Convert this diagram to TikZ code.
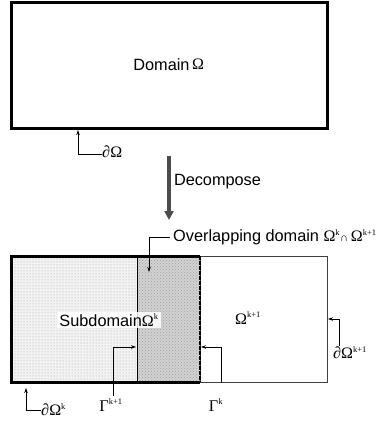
\documentclass[tikz,border=0pt]{standalone}
\usepackage{fontspec}
\setmainfont{Liberation Sans}
\newfontfamily\grkfont{Liberation Serif}
\usetikzlibrary{arrows.meta, patterns}
\newcommand{\Om}[1]{{\grkfont\fontsize{16}{18}\selectfont Ω\textsuperscript{\fontsize{8.5}{8.5}\selectfont #1}}}
\newcommand{\bdOm}[1]{{\grkfont\itshape ∂}\Om{#1}}
\newcommand{\Gam}[1]{{\grkfont Γ\textsuperscript{\fontsize{8.5}{8.5}\selectfont #1}}}

\begin{document}
\begin{tikzpicture}[x=1pt, y=-1pt,
  lbl/.style={font=\fontsize{16.3}{18}\selectfont, inner sep=0pt},
  ann/.style={line width=0.8pt, -{Stealth[length=5pt, width=3.5pt]}},
  thickb/.style={line width=3pt}]
  \useasboundingbox (0,0) rectangle (382,424);
  % whole domain
  \node[draw, thickb, lbl, minimum width=316pt, minimum height=126pt] (dom) at (169,65) {Domain\,\raisebox{1.5pt}{\Om{}}};
  \coordinate (domTip) at (78,130);
  \node[lbl, anchor=west] (dOm) at (102,152) {\bdOm{}};
  \draw[ann] ([yshift=-2pt]dOm.west) -| (domTip);
  % decompose
  \coordinate (decA) at (169,156);
  \coordinate (decB) at (169,220);
  \draw[line width=4pt, black!70, -{Triangle[length=9pt, width=9pt]}] (decA) -- (decB)
    node[pos=0.4, right=3pt, lbl, text=black] (dec) {Decompose};
  % subdomains
  \fill[gray!10] (11,256) rectangle (137,382);
  \fill[pattern=dots, pattern color=gray!70] (11,256) rectangle (137,382);
  \fill[gray!35] (137,256) rectangle (200,382);
  \fill[pattern=crosshatch dots, pattern color=gray!75] (137,256) rectangle (200,382);
  \draw[line width=1pt, black!75] (200,256) rectangle (327,382);
  \draw[line width=1pt] (137,256) -- (137,382);
  \draw[thickb] (200,256) -- (11,256) -- (11,382) -- (200,382);
  \draw[line width=2.5pt, dash pattern=on 3.5pt off 1.5pt] (200,256) -- (200,382);
  \node[lbl, fill=white, fill opacity=0.85, text opacity=1, inner sep=2pt] (sub) at (109,320) {Subdomain\Om{k}};
  \node[lbl] (omk1) at (248,318) {\Om{k+1}};
  % overlap
  \node[lbl, anchor=west] (ovl) at (173,237) {Overlapping domain \Om{k}{\grkfont\fontsize{11}{11}\selectfont ∩}\,\Om{k+1}};
  \coordinate (ovlTip) at (149,272);
  \draw[ann] ([xshift=-3pt]ovl.west) -| (ovlTip);
  % interfaces
  \node[lbl] (gk1) at (111,405) {\Gam{k+1}};
  \coordinate (gk1Tip) at (136,347);
  \draw[ann] ([xshift=2pt, yshift=3pt]gk1.north) |- (gk1Tip);
  \node[lbl] (gk) at (216,405) {\Gam{k}};
  \coordinate (gkFoot) at (221,383);
  \coordinate (gkTip) at (201,347);
  \draw[ann] (gkFoot) |- (gkTip);
  % boundaries
  \node[lbl, anchor=west] (dOmk) at (41,410) {\bdOm{k}};
  \coordinate (dOmkTip) at (26,388);
  \draw[ann] (dOmk.west) -| (dOmkTip);
  \node[lbl] (dOmk1) at (350,353) {\bdOm{k+1}};
  \coordinate (dOmk1Tip) at (328,319);
  \draw[ann] ([xshift=-11pt, yshift=1pt]dOmk1.north) |- (dOmk1Tip);
\end{tikzpicture}
\end{document}
